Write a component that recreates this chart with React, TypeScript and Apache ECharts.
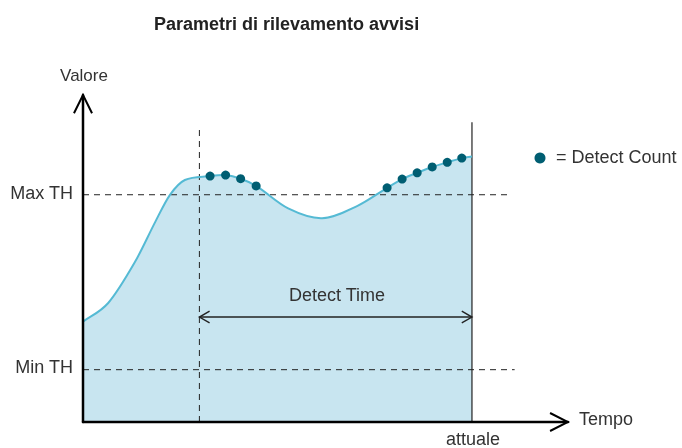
import React, { useEffect, useRef } from "react";
import * as echarts from "echarts";

// Diagram coordinates: x = time (0..100), y = value (0..100)
const curveX = [0, 5.2, 10.7, 14.9, 17.9, 21.0, 26.2, 29.4, 32.5, 35.7, 42.3, 49.3, 56.6, 62.7, 65.8, 68.9, 72.0, 75.1, 78.1, 80.2];
const curveY = [30.7, 36.4, 48.9, 61.2, 69.4, 74.0, 75.2, 75.5, 74.4, 72.2, 65.3, 62.3, 66.1, 71.6, 74.3, 76.2, 78.0, 79.4, 80.7, 81.2];
const detectX = [26.2, 29.4, 32.5, 35.7, 62.7, 65.8, 68.9, 72.0, 75.1, 78.1];
const detectY = [75.2, 75.5, 74.4, 72.2, 71.6, 74.3, 76.2, 78.0, 79.4, 80.7];
const maxTH = 69.5;
const minTH = 16;
const detectStart = 24;
const detectEnd = 80.2;
const axisMin = -10;
const axisMax = 100;

const TITLE = "Parametri di rilevamento avvisi";
const AREA = "#c8e5f0";
const LINE = "#55bad4";
const DOT = "#005e72";
const INK = "#222222";
const TEXT = "#333333";
const FONT = '"Liberation Sans", Arial, sans-serif';

function seg(points: number[][], style: any, z = 3): any {
  return {
    type: "line",
    data: points,
    showSymbol: false,
    symbol: "none",
    clip: false,
    silent: true,
    animation: false,
    lineStyle: style,
    z,
  };
}

// Cubic Hermite spline y(x) through pixel points (non-uniform spacing), as SVG path data
function splinePath(pts: number[][]): string {
  const n = pts.length;
  const m: number[] = pts.map((p, i) => {
    if (i === 0) return (pts[1][1] - p[1]) / (pts[1][0] - p[0]);
    if (i === n - 1) return (p[1] - pts[n - 2][1]) / (p[0] - pts[n - 2][0]);
    return (pts[i + 1][1] - pts[i - 1][1]) / (pts[i + 1][0] - pts[i - 1][0]);
  });
  let d = `M${pts[0][0]},${pts[0][1]}`;
  for (let i = 0; i < n - 1; i++) {
    const p1 = pts[i];
    const p2 = pts[i + 1];
    const h = p2[0] - p1[0];
    const c1x = p1[0] + h / 3;
    const c1y = p1[1] + (m[i] * h) / 3;
    const c2x = p2[0] - h / 3;
    const c2y = p2[1] - (m[i + 1] * h) / 3;
    d += ` C${c1x},${c1y} ${c2x},${c2y} ${p2[0]},${p2[1]}`;
  }
  return d;
}

export default function App() {
  const ref = useRef<HTMLDivElement>(null);
  useEffect(() => {
    if (!ref.current) return;
    const chart = echarts.init(ref.current, undefined, { renderer: "svg" });
    const dots = detectX.map((x, i) => [x, detectY[i]]);
    const dash = { color: INK, width: 1, type: [6, 5] };
    const solid = { color: INK, width: 1.2 };
    const axisStyle = { color: "#000", width: 2.5, cap: "round", join: "round" };
    const headStyle = { color: "#000", width: 2, join: "miter" };
    const arrowStyle = { color: INK, width: 1.4, join: "miter" };
    const txt = (text: string, x: number, y: number, size: number, align: string) => ({
      type: "text",
      x,
      y,
      z: 100,
      style: { text, font: `${size}px ${FONT}`, fill: TEXT, textAlign: align, textVerticalAlign: "middle" },
    });

    const curveSeries = (mode: "area" | "line", z: number): any => ({
      type: "custom",
      data: [[curveX[0], curveY[0]]],
      silent: true,
      z,
      renderItem: (_params: any, api: any) => {
        const pts = curveX.map((x, i) => api.coord([x, curveY[i]]));
        const d = splinePath(pts);
        if (mode === "line") {
          return {
            type: "path",
            shape: { pathData: d },
            style: { fill: "none", stroke: LINE, lineWidth: 2 },
          };
        }
        const base0 = api.coord([curveX[0], 0]);
        const baseN = api.coord([curveX[curveX.length - 1], 0]);
        return {
          type: "path",
          shape: { pathData: `${d} L${baseN[0]},${baseN[1]} L${base0[0]},${base0[1]} Z` },
          style: { fill: AREA, stroke: "none" },
        };
      },
    });

    const option: any = {
      animation: false,
      title: {
        text: TITLE,
        left: 149,
        top: 10,
        textStyle: { fontFamily: FONT, fontSize: 18, fontWeight: "bold", color: INK },
      },
      grid: { left: 34.5, right: 114, top: 95, bottom: 26 },
      xAxis: { type: "value", min: axisMin, max: axisMax, show: false },
      yAxis: { type: "value", min: 0, max: axisMax, show: false },
      series: [
        curveSeries("area", 1),
        seg([[0, maxTH], [88, maxTH]], dash, 2),
        seg([[0, minTH], [89, minTH]], dash, 2),
        seg([[detectStart, 0], [detectStart, 90]], dash, 2),
        seg([[detectEnd, 0], [detectEnd, 91.7]], solid, 2),
        seg([[detectStart, 32.1], [detectEnd, 32.1]], arrowStyle, 2),
        seg([[detectStart + 2.1, 33.9], [detectStart, 32.1], [detectStart + 2.1, 30.3]], arrowStyle, 2),
        seg([[detectEnd - 2.1, 33.9], [detectEnd, 32.1], [detectEnd - 2.1, 30.3]], arrowStyle, 2),
        curveSeries("line", 3),
        {
          type: "scatter",
          data: dots,
          symbol: "circle",
          symbolSize: 9,
          itemStyle: { color: DOT, opacity: 1 },
          z: 4,
        },
        seg([[0, 0], [0, axisMax]], axisStyle, 5),
        seg([[0, 0], [axisMax, 0]], axisStyle, 5),
        seg([[-1.86, 94.4], [0, axisMax], [1.86, 94.4]], headStyle, 5),
        seg([[axisMax - 3.7, 2.75], [axisMax, 0], [axisMax - 3.7, -2.75]], headStyle, 5),
      ],
      graphic: [
        txt("Valore", 84, 75, 17, "center"),
        txt("Max TH", 73, 193, 18, "right"),
        txt("Min TH", 73, 367, 18, "right"),
        txt("Tempo", 579, 419, 18, "left"),
        txt("attuale", 473, 439, 18, "center"),
        txt("Detect Time", 337, 295, 18, "center"),
        { type: "circle", z: 100, shape: { cx: 540, cy: 158, r: 5.5 }, style: { fill: DOT } },
        txt("= Detect Count", 556, 157, 18, "left"),
      ],
    };
    chart.setOption(option);
    return () => chart.dispose();
  }, []);
  return (
    <div
      ref={ref}
      style={{ position: "fixed", left: 0, top: 0, width: 682, height: 448 }}
    />
  );
}
